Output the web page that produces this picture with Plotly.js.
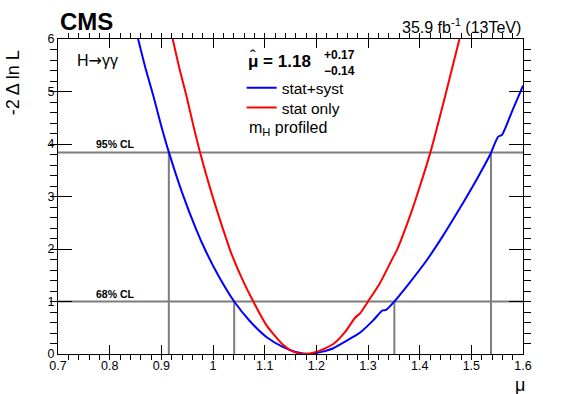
<!DOCTYPE html>
<html>
<head>
<meta charset="utf-8">
<script src="https://cdn.plot.ly/plotly-3.0.1.min.js"></script>
<style>
  html, body { margin: 0; padding: 0; background: white; }
  #scan { width: 581px; height: 394px; }
</style>
</head>
<body>
<div id="scan"></div>
<script>
// likelihood scan, stat+syst (blue)
var muSyst = [0.855, 0.870, 0.885, 0.900, 0.915, 0.940, 0.968, 0.985, 1.010, 1.041,
              1.072, 1.104, 1.136, 1.160, 1.188, 1.210, 1.233, 1.272, 1.285, 1.310,
              1.328, 1.335, 1.351, 1.380, 1.414, 1.445, 1.478, 1.510, 1.536, 1.552,
              1.559, 1.580, 1.600];
var nllSyst = [6.00, 5.42, 4.90, 4.34, 3.83, 3.08, 2.36, 1.98, 1.50, 1.00,
               0.62, 0.32, 0.13, 0.04, 0.00, 0.04, 0.11, 0.33, 0.41, 0.64,
               0.83, 0.84, 1.00, 1.35, 1.79, 2.25, 2.78, 3.32, 3.79, 4.14,
               4.17, 4.65, 5.11];

// stat only (red)
var muStat = [0.922, 0.935, 0.949, 0.962, 0.975, 0.998, 1.020, 1.033, 1.055, 1.078,
              1.104, 1.136, 1.155, 1.175, 1.200, 1.233, 1.255, 1.275, 1.285, 1.300,
              1.323, 1.349, 1.356, 1.381, 1.400, 1.421, 1.450, 1.477];
var nllStat = [6.00, 5.44, 4.90, 4.35, 3.84, 3.04, 2.36, 1.98, 1.46, 1.00,
               0.54, 0.17, 0.045, 0.00, 0.04, 0.19, 0.41, 0.69, 0.78, 1.00,
               1.35, 1.85, 1.98, 2.62, 3.18, 3.85, 4.94, 6.00];

// CL levels and where the stat+syst curve crosses them
var clLevels = [1, 3.84];
var clNames = ['68% CL', '95% CL'];
var clBounds = [[1.041, 1.351], [0.9145, 1.538]];

var font = 'Liberation Sans, Arial, Helvetica, sans-serif';
var grey = 'rgb(125,125,125)';

var traces = [];

// CL lines
for (var i = 0; i < clLevels.length; i++) {
    traces.push({
        x: [0.7, 1.6], y: [clLevels[i], clLevels[i]],
        mode: 'lines', line: {color: grey, width: 2},
        showlegend: false, hoverinfo: 'skip'
    });
    for (var j = 0; j < 2; j++) {
        traces.push({
            x: [clBounds[i][j], clBounds[i][j]], y: [0, clLevels[i]],
            mode: 'lines', line: {color: grey, width: 2},
            showlegend: false, hoverinfo: 'skip'
        });
    }
}

traces.push({
    x: muSyst, y: nllSyst, mode: 'lines', name: 'stat+syst', legend: 'legend',
    line: {color: '#0000ff', width: 2, shape: 'spline', smoothing: 0.6}
});
traces.push({
    x: muStat, y: nllStat, mode: 'lines', name: 'stat only', legend: 'legend2',
    line: {color: '#ff0000', width: 2, shape: 'spline', smoothing: 0.6}
});

var annotations = [
    {text: '<b>CMS</b>', x: 0, y: 1.054, xref: 'paper', yref: 'paper',
     xanchor: 'left', yanchor: 'middle', showarrow: false, font: {size: 24}},
    {text: '35.9 fb<sup>-1</sup> (13TeV)', x: 1, y: 1.041, xref: 'paper', yref: 'paper',
     xanchor: 'right', yanchor: 'middle', showarrow: false, font: {size: 16}},
    {text: 'H<span style="font-family:DejaVu Sans">\u2192</span>\u03b3\u03b3', x: 0.037, y: 0.933,
     xref: 'paper', yref: 'paper',
     xanchor: 'left', yanchor: 'middle', showarrow: false, font: {size: 16}},
    {text: '<b>\u03bc = 1.18</b>', x: 0.404, y: 0.930, xref: 'paper', yref: 'paper',
     xanchor: 'left', yanchor: 'middle', showarrow: false, font: {size: 17}},
    {text: '\u02c6', x: 0.4204, y: 0.945, xref: 'paper', yref: 'paper',
     xanchor: 'center', yanchor: 'middle', showarrow: false, font: {size: 17}},
    {text: '<b>+0.17</b>', x: 0.568, y: 0.949, xref: 'paper', yref: 'paper',
     xanchor: 'left', yanchor: 'middle', showarrow: false, font: {size: 12}},
    {text: '<b>\u22120.14</b>', x: 0.568, y: 0.898, xref: 'paper', yref: 'paper',
     xanchor: 'left', yanchor: 'middle', showarrow: false, font: {size: 12}},
    {text: 'm<sub>H</sub> profiled', x: 0.407, y: 0.717, xref: 'paper', yref: 'paper',
     xanchor: 'left', yanchor: 'middle', showarrow: false, font: {size: 16}},
    {text: '-2 \u0394 ln L', x: -0.095, y: 0.862, xref: 'paper', yref: 'paper',
     xanchor: 'center', yanchor: 'middle', textangle: -90, showarrow: false, font: {size: 18}},
    {text: '\u03bc', x: 0.994, y: -0.098, xref: 'paper', yref: 'paper',
     xanchor: 'center', yanchor: 'middle', showarrow: false, font: {size: 18}}
];
for (var k = 0; k < clLevels.length; k++) {
    annotations.push({
        text: '<b>' + clNames[k] + '</b>', x: 0.811, y: clLevels[k],
        xanchor: 'center', yanchor: 'bottom', showarrow: false,
        font: {size: 10.5}
    });
}

function makeAxis(extra) {
    var ax = {
        showgrid: false, zeroline: false, showline: true, linecolor: 'black', linewidth: 1,
        mirror: 'allticks', ticks: 'inside', tickcolor: 'black', tickwidth: 1,
        tickfont: {size: 12.5, color: 'black'}
    };
    for (var key in extra) ax[key] = extra[key];
    return ax;
}

var legendStyle = {xanchor: 'left', yanchor: 'top', bgcolor: 'rgba(0,0,0,0)',
                   borderwidth: 0, font: {size: 15.5}};

var layout = {
    width: 581, height: 394,
    margin: {l: 58, r: 58, t: 39, b: 40},
    paper_bgcolor: 'white', plot_bgcolor: 'white',
    font: {family: font, color: 'black'},
    showlegend: true,
    legend: Object.assign({x: 0.395, y: 0.898}, legendStyle),
    legend2: Object.assign({x: 0.395, y: 0.835}, legendStyle),
    xaxis: makeAxis({
        range: [0.7, 1.6], dtick: 0.1, tick0: 0.7, ticklen: 9,
        minor: {dtick: 0.02, ticklen: 5, tickcolor: 'black', tickwidth: 1}
    }),
    yaxis: makeAxis({
        range: [0, 6], dtick: 1, ticklen: 14,
        minor: {dtick: 0.2, ticklen: 7, tickcolor: 'black', tickwidth: 1}
    }),
    annotations: annotations
};

Plotly.newPlot('scan', traces, layout, {displayModeBar: false});
</script>
</body>
</html>
